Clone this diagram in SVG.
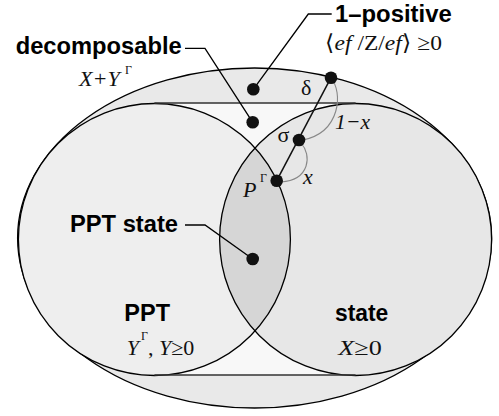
<svg xmlns="http://www.w3.org/2000/svg" width="499" height="416" viewBox="0 0 499 416">
<style>
.lbl{font-family:"Liberation Sans",Arial,sans-serif;font-weight:bold;font-size:23px;fill:#000}
.mth{font-family:"Liberation Serif","Times New Roman",serif;font-size:22px;fill:#111}
.it{font-style:italic}
.sup{font-size:12px;font-style:normal}
.edge{fill:none;stroke:#000;stroke-width:1.3}
.arc{fill:none;stroke:#888;stroke-width:1.1}
.dot{fill:#111}
</style>
<rect width="499" height="416" fill="#fff"/>
<g id="sets">
<ellipse id="one-positive" cx="254.6" cy="238" rx="237" ry="170" fill="#e9e9e9" stroke="#000" stroke-width="1.3"/>
<rect id="decomposable" x="154.4" y="103" width="201.2" height="272" fill="#f8f8f8"/>
<circle id="ppt" cx="154.4" cy="239.5" r="136" fill="#eeeeee"/>
<circle id="state" cx="355.6" cy="239.5" r="136" fill="#e7e7e7"/>
<path id="ppt-state" d="M255,148 A136,136 0 0 1 255,331 A136,136 0 0 1 255,148 Z" fill="#d6d6d6"/>
<circle cx="154.4" cy="239.5" r="136" fill="none" stroke="#000" stroke-width="1.3"/>
<circle cx="355.6" cy="239.5" r="136" fill="none" stroke="#000" stroke-width="1.3"/>
<line x1="154.4" y1="103" x2="355.6" y2="103" stroke="#333" stroke-width="1.6"/>
<line x1="154.4" y1="375" x2="355.6" y2="375" stroke="#333" stroke-width="1.6"/>
</g>
<g id="connectors">
<polyline class="edge" points="185,48.3 205,48.3 252.7,122.3"/>
<polyline class="edge" points="331.7,14 308.3,14 253.3,89.3"/>
<polyline class="edge" points="185,225 205,225 252.7,259"/>
<line x1="331" y1="77.7" x2="276.7" y2="180.7" stroke="#111" stroke-width="1.5"/>
<path class="arc" d="M331,78 C343,92 341,132 303,140"/>
<path class="arc" d="M301,143 C312,155 310,180 281,182"/>
</g>
<g id="dots">
<circle class="dot" cx="253.3" cy="89.3" r="6.3"/>
<circle class="dot" cx="252.7" cy="122.3" r="6.3"/>
<circle class="dot" cx="252.7" cy="259" r="6.3"/>
<circle class="dot" cx="331" cy="77.7" r="6.3"/>
<circle class="dot" cx="299" cy="140" r="6.3"/>
<circle class="dot" cx="276.7" cy="180.7" r="6.3"/>
</g>
<g id="labels">
<text class="lbl" x="15.7" y="54.3" textLength="166" lengthAdjust="spacingAndGlyphs">decomposable</text>
<text class="mth it" x="79" y="86" textLength="41" lengthAdjust="spacingAndGlyphs">X+Y</text>
<text class="mth sup" x="125" y="74">Γ</text>
<text class="lbl" x="335" y="21.7" textLength="116.7" lengthAdjust="spacingAndGlyphs">1–positive</text>
<text class="mth" x="325" y="50" textLength="117" lengthAdjust="spacingAndGlyphs">⟨<tspan class="it">ef</tspan> /Z/<tspan class="it">ef</tspan>⟩ ≥0</text>
<text class="lbl" x="70" y="231.7" textLength="108" lengthAdjust="spacingAndGlyphs">PPT state</text>
<text class="lbl" x="124.3" y="320.7" textLength="45.7" lengthAdjust="spacingAndGlyphs">PPT</text>
<text class="mth" x="126.7" y="355"><tspan class="it">Y</tspan><tspan class="sup" dx="2" dy="-15">Γ</tspan><tspan dy="15">, </tspan><tspan class="it">Y</tspan>≥0</text>
<text class="lbl" x="335" y="320.7" textLength="53.3" lengthAdjust="spacingAndGlyphs">state</text>
<text class="mth" x="338.3" y="355" textLength="43.4" lengthAdjust="spacingAndGlyphs"><tspan class="it">X</tspan>≥0</text>
<text class="mth" x="301" y="95" font-size="22">δ</text>
<text class="mth" x="277.5" y="142" font-size="22">σ</text>
<text class="mth it" x="243" y="197">P</text>
<text class="mth sup" x="260" y="182">Γ</text>
<text class="mth it" x="335" y="129.3" font-size="20" textLength="35" lengthAdjust="spacingAndGlyphs">1−x</text>
<text class="mth it" x="303" y="184" font-size="21">x</text>
</g>
</svg>
